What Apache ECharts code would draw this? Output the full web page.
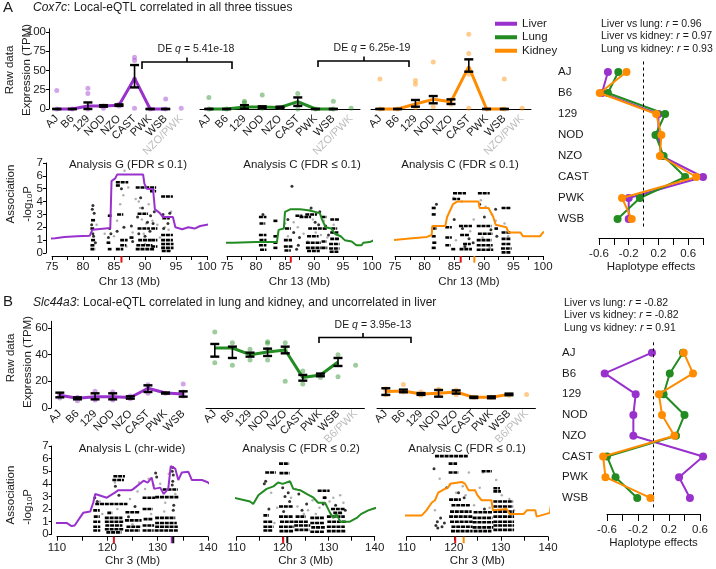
<!DOCTYPE html>
<html>
<head>
<meta charset="utf-8">
<title>Cox7c / Slc44a3 local-eQTL</title>
<script src="https://cdn.jsdelivr.net/npm/echarts@6/dist/echarts.min.js"></script>
<style>
html, body { margin: 0; padding: 0; background: #fff; }
#main { width: 716px; height: 569px; }
</style>
</head>
<body>
<div id="main"></div>
<script>
// ---- categories
var strains = ['AJ', 'B6', '129', 'NOD', 'NZO', 'CAST', 'PWK', 'WSB'];
var catsA = strains.concat(['NZO/PWK']);
var catsB = strains.concat(['B6/PWK']);

// ---- tick labels
var tpmTicksA = [0, 25, 50, 75, 100];
var tpmTicksB = [0, 20, 40, 60];
var logpTicks = [0, 1, 2, 3, 4, 5, 6, 7];
var chr13Ticks = [75, 77.5, 80, 82.5, 85, 87.5, 90, 92.5, 95, 97.5, 100];
var chr13Labels = [75, 80, 85, 90, 95, 100];
var chr3Ticks = [110, 115, 120, 125, 130, 135, 140];
var chr3Labels = [110, 120, 130, 140];
var hapTicksA = [-0.6, -0.4, -0.2, 0, 0.2, 0.4, 0.6, 0.8];
var hapTicksB = [-0.6, -0.4, -0.2, 0, 0.2, 0.4, 0.6];
var hapLabels = [-0.6, -0.2, 0.2, 0.6];

// ---- A: Cox7c raw expression (TPM): strain means, SE bars [lo, hi], single mice
var cox7cLiverMean = [0, 0, 4, 4, 5, 40, 0, 0];
var cox7cLiverErr = [[0, 0], [0, 0], [0, 8.5], [3, 5], [4, 6], [28, 57], [0, 0], [0, 0]];
var cox7cLiverPts = [['AJ', 24], ['AJ', 0], ['B6', 0], ['129', 27], ['129', 20], ['129', 0], ['NOD', 4], ['NOD', 1], ['NZO', 4], ['NZO', 6],
  ['CAST', 67], ['CAST', 63], ['CAST', 39], ['CAST', 1], ['PWK', 0], ['WSB', 13], ['WSB', 0], ['NZO/PWK', 1]];
var cox7cLungMean = [0, 0, 2.6, 2.5, 2, 9.5, 0, 0];
var cox7cLungErr = [[0, 0], [0, 0], [0.5, 5], [1.5, 3.5], [1, 3], [4, 15], [0, 0], [0, 0]];
var cox7cLungPts = [['AJ', 15], ['AJ', 0], ['B6', 0], ['129', 10], ['129', 8], ['NOD', 18], ['NOD', 1], ['NZO', 2], ['CAST', 20], ['CAST', 7], ['CAST', 0],
  ['PWK', 0], ['WSB', 10], ['WSB', 0], ['NZO/PWK', 1]];
var cox7cKidneyMean = [0, 0, 6.5, 12.5, 9.5, 55, 0, 0];
var cox7cKidneyErr = [[0, 0], [0, 0], [3, 11.7], [7.4, 16.8], [6.5, 12.5], [48.4, 64.4], [0, 0], [0, 0]];
var cox7cKidneyPts = [['AJ', 39], ['AJ', 0], ['B6', 0], ['129', 37], ['129', 32], ['129', 2], ['NOD', 61], ['NOD', 3], ['NZO', 12], ['NZO', 6],
  ['CAST', 97], ['CAST', 72], ['CAST', 45], ['CAST', 1], ['PWK', 0], ['WSB', 39], ['WSB', 0], ['NZO/PWK', 1]];

// ---- B: Slc44a3 raw expression (TPM)
var slcLiverMean = [9.5, 7.3, 8.5, 8.5, 7.9, 14.8, 11.2, 10.5];
var slcLiverErr = [[8, 11.5], [6.5, 8], [6.5, 11], [6.5, 11], [7, 8.8], [12, 17], [10.8, 11.6], [8.5, 12.5]];
var slcLiverPts = [['AJ', 7.5], ['AJ', 10.5], ['AJ', 9], ['B6', 5.5], ['B6', 8], ['129', 12.5], ['129', 7], ['129', 6], ['NOD', 12], ['NOD', 7], ['NOD', 6], ['NOD', 10],
  ['NZO', 7], ['NZO', 9], ['CAST', 17.5], ['CAST', 11], ['CAST', 15], ['PWK', 11], ['WSB', 18], ['WSB', 9], ['WSB', 12]];
var slcLungMean = [45, 45, 40, 42, 43.5, 22.8, 24.8, 34.5];
var slcLungErr = [[38.5, 48], [37.5, 46], [38.5, 41.5], [39, 44.5], [41, 46], [20.5, 24.8], [23.8, 25.8], [31.5, 37.5]];
var slcLungPts = [['AJ', 57], ['AJ', 34], ['B6', 49], ['B6', 32], ['129', 44], ['129', 36], ['NOD', 49.6], ['NOD', 48.5], ['NOD', 44], ['NOD', 36],
  ['NZO', 49], ['NZO', 44], ['NZO', 20], ['CAST', 27.8], ['CAST', 18], ['PWK', 22.8], ['WSB', 40], ['WSB', 23.5], ['B6/PWK', 32]];
var slcKidneyMean = [12.3, 12.8, 10.5, 11, 12, 8, 8, 10.2];
var slcKidneyErr = [[9.8, 14.8], [11.8, 13.8], [9.8, 11.2], [8.5, 13.5], [10.8, 13.2], [7.5, 8.5], [7.3, 8.7], [9.6, 10.8]];
var slcKidneyPts = [['AJ', 14.5], ['AJ', 10], ['AJ', 13], ['B6', 17.7], ['B6', 12], ['129', 12], ['129', 9.5], ['NOD', 14], ['NOD', 9.5], ['NOD', 13],
  ['NZO', 13.5], ['NZO', 10], ['CAST', 8], ['PWK', 8], ['WSB', 9.5], ['B6/PWK', 10.2]];

// ---- A: Cox7c association on Chr 13: haplotype scan [Mb, -log10P]
var cox7cLiverScan = [[74.1, 1.5], [74.2, 1.1], [75.5, 1.15], [77, 1.25], [79, 1.3], [81.1, 1.35], [81.5, 1.8], [81.7, 1.9], [84.4, 1.95], [84.6, 5.6],
  [85.2, 5.8], [85.5, 6.1], [89.7, 6.1], [89.9, 5.4], [90.3, 5.0], [91.3, 4.95], [91.6, 3.4], [92.4, 3.1], [92.9, 2.8], [94.5, 2.8], [94.9, 2.0],
  [96, 1.85], [97, 2.0], [98, 1.9], [98.9, 2.1], [100, 2.2], [101.3, 2.3]];
var cox7cLungScan = [[73.2, 1.4], [73.5, 0.8], [76, 0.8], [80, 0.85], [83.6, 0.85], [83.9, 1.8], [84.8, 1.9], [85.0, 3.2], [85.9, 3.4], [87.6, 3.4],
  [89.3, 3.3], [91.0, 3.1], [91.4, 2.6], [92.0, 2.0], [93.0, 1.9], [93.6, 1.5], [94.6, 1.3], [95.3, 1.0], [96.5, 0.9], [97.3, 0.6], [98.2, 0.6],
  [98.5, 0.8], [99.6, 0.85], [100.4, 1.0], [101.2, 1.2]];
var cox7cKidneyScan = [[74.2, 1.4], [74.4, 1.0], [77, 1.1], [80.4, 1.25], [81.2, 1.4], [81.3, 2.1], [83.5, 2.1], [83.8, 2.8], [84.6, 3.6], [84.8, 3.8],
  [85.5, 4.0], [89.1, 4.0], [89.3, 3.5], [90.8, 3.5], [91.6, 2.8], [92.0, 2.2], [93.8, 2.0], [94.2, 1.6], [96.2, 1.6], [96.6, 1.3], [99.5, 1.3],
  [100, 1.6], [100.8, 1.7]];
// SNP association, runs of SNPs [fromMb, toMb, -log10P], single SNPs [Mb, -log10P]
var cox7cLiverSnpRuns = [[81.3, 82.0, 2.55], [81.2, 81.8, 1.9], [81.3, 82.0, 1.0], [81.2, 81.9, 0.6], [81.2, 82.0, 0.3], [84.0, 84.6, 2.9], [83.8, 84.4, 0.8],
  [84.0, 84.6, 0.3], [85.3, 87.3, 5.5], [85.3, 86.0, 5.25], [85.5, 86.5, 3.0], [88.5, 91.8, 5.1], [88.8, 90.5, 3.05], [88.8, 90.8, 1.9], [88.5, 91.5, 0.3],
  [88.6, 91.2, 0.6], [88.9, 91.0, 1.0], [90.8, 91.8, 4.8], [92.6, 94.5, 4.4], [92.8, 94.0, 2.7], [92.6, 94.5, 1.4], [92.6, 94.5, 1.0], [92.6, 94.6, 0.7],
  [92.6, 94.6, 0.4], [92.7, 94.2, 0.15], [91.0, 92.0, 1.9], [91.0, 92.0, 1.0], [91.0, 92.0, 0.5], [86.0, 87.2, 1.0], [85.3, 86.5, 0.3], [86.0, 87.0, 0.6],
  [87.5, 88.2, 1.2]];
var cox7cLiverSnps = [[81.6, 3.7], [81.5, 3.4], [81.8, 3.1], [81.4, 2.2], [81.6, 1.5], [81.7, 1.3], [82.0, 0.8], [84.3, 1.9], [84.5, 1.5], [84.1, 1.2],
  [86.2, 5.0], [87.8, 2.1], [88.0, 0.9], [88.8, 2.8], [89.3, 4.3], [89.6, 3.5], [90.4, 2.4], [90.9, 2.9], [91.5, 3.2], [91.3, 2.3], [93.0, 1.9],
  [93.7, 2.3], [94.0, 3.1], [92.9, 3.0], [86.6, 2.0], [85.5, 1.7], [89.0, 1.5], [90.0, 1.3], [90.8, 1.7]];
var cox7cLiverSnpsWeak = [[85.5, 2.5], [86.0, 3.8], [86.5, 4.5], [87.3, 5.1], [88.0, 1.6], [88.5, 4.2], [89.0, 4.0], [89.2, 3.5], [89.5, 2.6], [89.8, 1.5],
  [90.2, 2.3], [90.6, 3.8], [91.2, 2.5], [91.5, 4.9], [92.0, 2.2], [92.4, 1.2], [93.2, 2.0], [93.8, 1.8], [94.2, 3.2], [86.7, 6.4], [83.5, 1.5],
  [82.2, 2.2], [85.0, 1.3], [87.0, 0.5], [90.0, 0.7], [93.0, 0.5]];
var cox7cLungSnpRuns = [[80.5, 81.8, 2.8], [80.6, 81.6, 2.3], [80.5, 81.8, 1.4], [80.6, 81.8, 1.0], [80.5, 81.8, 0.6], [80.7, 81.8, 0.25], [83.0, 83.7, 2.5],
  [83.0, 83.8, 1.3], [83.0, 83.8, 0.8], [83.0, 83.8, 0.4], [85.0, 86.0, 1.9], [84.8, 86.2, 1.0], [84.8, 86.3, 0.5], [84.9, 86.0, 0.2], [86.8, 88.0, 2.9],
  [87.5, 89.5, 2.8], [88.5, 90.5, 3.0], [89.0, 91.5, 1.9], [88.8, 90.8, 1.3], [88.6, 91.2, 0.8], [88.6, 91.3, 0.4], [88.8, 91.0, 0.15], [91.3, 92.2, 2.8],
  [91.5, 92.3, 1.9], [91.3, 92.2, 0.9], [91.3, 92.3, 0.4], [92.8, 94.3, 2.6], [92.8, 94.2, 1.6], [92.8, 94.3, 1.1], [92.6, 94.4, 0.7], [92.6, 94.4, 0.35],
  [92.7, 94.2, 0.1], [93.0, 94.0, 1.9]];
var cox7cLungSnps = [[86.2, 5.2], [81.2, 3.0], [85.5, 2.6], [86.5, 1.6], [87.5, 1.2], [87.3, 0.6], [89.5, 3.5], [90.2, 2.4], [90.8, 2.2], [91.0, 3.2],
  [92.0, 2.1], [92.5, 1.4], [87.0, 0.3]];
var cox7cLungSnpsWeak = [[85.5, 1.3], [86.5, 2.4], [87.2, 2.0], [88.2, 1.5], [89.3, 3.3], [89.8, 2.6], [90.3, 1.6], [91.7, 2.5], [92.3, 1.2], [93.4, 2.2],
  [93.9, 1.4], [88.9, 0.9], [85.0, 2.3], [90.5, 3.1], [91.2, 1.4]];
var cox7cKidneySnpRuns = [[84.8, 87.0, 4.65], [89.0, 91.0, 4.65], [84.7, 86.0, 4.2], [81.2, 82.0, 3.5], [81.2, 82.0, 3.0], [81.2, 82.1, 1.9], [81.2, 82.0, 1.3],
  [81.3, 82.1, 0.8], [81.2, 82.0, 0.4], [83.5, 84.6, 2.0], [83.5, 84.6, 1.2], [83.5, 84.4, 0.6], [84.5, 85.3, 0.3], [85.8, 88.0, 2.1], [86.0, 87.5, 1.4],
  [86.5, 87.8, 0.7], [85.9, 88.0, 0.3], [88.8, 91.3, 2.1], [89.0, 91.5, 1.5], [88.8, 91.3, 1.0], [88.8, 91.5, 0.6], [88.8, 91.6, 0.25], [91.8, 92.4, 1.9],
  [93.0, 94.6, 3.5], [93.0, 94.6, 1.6], [93.0, 94.6, 1.1], [93.0, 94.6, 0.7], [92.9, 94.7, 0.35], [93.0, 94.5, 0.05]];
var cox7cKidneySnps = [[82.0, 3.8], [85.0, 2.6], [86.4, 1.9], [87.5, 1.1], [88.2, 0.8], [89.3, 3.8], [90.1, 2.8], [91.2, 1.8], [92.0, 3.4], [92.2, 1.3], [86.8, 0.5]];
var cox7cKidneySnpsWeak = [[84.9, 4.3], [86.3, 4.0], [89.5, 4.1], [90.3, 3.6], [91.4, 3.0], [92.0, 2.5], [85.3, 1.0], [87.7, 1.7], [89.8, 1.2], [91.0, 0.4],
  [93.5, 2.3], [94.1, 1.3], [88.3, 2.6]];
// gene position / peak markers under the axis (Mb)
var cox7cLiverMarks = [86.2];
var cox7cLungMarks = [86.0];
var cox7cKidneyMarks = [86.1, 88.4];

// ---- B: Slc44a3 association on Chr 3
var slcLiverScan = [[108.6, 2.06], [108.8, 0.9], [111.9, 0.9], [112.9, 0.65], [113.5, 0.7], [115.2, 1.7], [116.6, 1.8], [117.2, 2.5], [117.6, 3.2],
  [119.9, 2.9], [121.5, 3.3], [122.2, 3.5], [124.8, 3.5], [125.2, 3.6], [127.2, 4.25], [128.0, 4.1], [128.8, 4.5], [129.3, 3.6], [130.5, 3.7],
  [131.2, 3.2], [132.1, 3.6], [132.6, 5.4], [133.5, 5.2], [134.1, 4.3], [134.8, 4.9], [136.1, 4.95], [136.8, 4.3], [138.8, 4.3], [139.8, 4.15],
  [140.4, 4.0], [141.1, 3.7]];
var slcLungScan = [[106.7, 2.7], [107.0, 3.2], [107.3, 2.9], [109.3, 2.9], [112.9, 2.6], [113.6, 2.4], [114.7, 3.1], [116.5, 3.6], [118.0, 3.8],
  [119.0, 4.1], [120.0, 4.0], [121.6, 4.2], [122.3, 3.6], [123.8, 3.5], [125.2, 3.2], [126.7, 2.9], [127.7, 2.5], [129.2, 2.5], [130.3, 1.7],
  [131.0, 1.3], [131.7, 1.6], [132.5, 1.0], [134.6, 1.0], [136.1, 1.3], [137.0, 1.6], [138.6, 1.9], [140.3, 2.1]];
var slcKidneyScan = [[107.2, 1.13], [107.5, 1.5], [109.2, 1.5], [113.2, 1.5], [114.2, 1.9], [115.3, 2.5], [116.0, 2.7], [116.7, 3.3], [118.1, 3.6],
  [118.8, 3.7], [119.2, 4.0], [121.7, 4.15], [122.4, 4.0], [123.1, 3.5], [124.5, 3.5], [125.0, 3.1], [125.9, 2.7], [128.0, 2.7], [128.3, 1.9],
  [131.2, 2.0], [131.9, 1.6], [134.8, 1.6], [135.5, 1.9], [137.3, 1.9], [137.6, 1.4], [140.4, 1.7], [140.7, 2.5]];
var slcLiverSnpRuns = [[121.2, 123.5, 4.6], [121.0, 123.3, 4.3], [117.6, 124.0, 2.4], [117.2, 118.5, 1.9], [117.3, 118.5, 1.4], [117.2, 118.6, 1.0],
  [117.2, 118.6, 0.6], [117.2, 118.6, 0.3], [119.5, 123.0, 1.3], [119.5, 123.2, 1.0], [119.6, 123.0, 0.7], [119.5, 123.2, 0.4], [119.8, 122.8, 0.15],
  [120.0, 121.0, 1.7], [123.6, 126.5, 1.75], [123.5, 126.8, 1.1], [123.8, 126.7, 0.6], [123.5, 126.5, 0.3], [127.0, 129.5, 2.9], [127.0, 129.0, 2.0],
  [127.2, 129.0, 1.2], [127.0, 129.3, 0.7], [127.0, 129.2, 0.3], [129.5, 134.2, 2.95], [131.0, 134.0, 3.55], [129.5, 133.5, 1.3], [129.5, 133.8, 0.9],
  [129.5, 134.0, 0.6], [129.4, 134.0, 0.3]];
var slcLiverSnps = [[129.6, 4.85], [129.8, 4.55], [133.0, 5.3], [132.9, 5.0], [133.1, 4.7], [133.0, 4.2], [132.9, 3.9], [133.2, 2.3], [133.1, 1.9],
  [117.5, 2.9], [118.0, 2.6], [121.6, 3.8], [122.3, 3.1], [124.2, 1.4], [125.5, 2.2]];
var slcLiverSnpsWeak = [[121.5, 4.1], [118.5, 2.6], [122.0, 2.0], [124.5, 2.8], [126.0, 3.4], [127.5, 3.6], [128.2, 4.4], [129.2, 3.9], [130.5, 4.0],
  [131.5, 2.5], [132.2, 4.8], [133.5, 3.2], [125.0, 0.8], [119.0, 1.6], [128.7, 1.6], [131.3, 1.8], [126.3, 4.1]];
var slcLungSnpRuns = [[119.2, 121.4, 5.6], [116.2, 118.5, 4.9], [119.3, 121.5, 4.85], [115.8, 117.8, 1.0], [115.8, 118.0, 0.6], [115.8, 117.8, 0.3],
  [115.8, 117.0, 1.5], [119.2, 122.2, 2.2], [119.2, 122.2, 1.4], [119.4, 122.5, 1.0], [119.2, 122.5, 0.6], [119.3, 122.3, 0.25], [122.5, 125.5, 1.0],
  [122.5, 126.0, 0.7], [122.6, 125.8, 0.35], [122.8, 125.0, 1.4], [126.0, 129.0, 1.3], [126.0, 129.0, 0.9], [126.2, 129.3, 0.55], [126.0, 129.0, 0.2],
  [129.6, 133.5, 1.4], [129.7, 133.7, 1.0], [129.6, 133.5, 0.6], [129.6, 133.7, 0.25], [130.5, 133.5, 2.0], [131.0, 133.0, 1.7], [127.6, 130.2, 3.45],
  [128.7, 129.5, 2.9]];
var slcLungSnps = [[116.3, 4.2], [116.0, 4.0], [120.0, 3.7], [120.5, 3.0], [121.2, 3.3], [121.5, 2.6], [120.2, 1.8], [117.0, 2.0], [123.5, 3.2],
  [125.2, 2.4], [128.8, 2.4], [129.2, 2.9], [131.5, 2.3], [133.6, 1.9], [124.2, 1.9]];
var slcLungSnpsWeak = [[117.5, 3.3], [118.8, 2.1], [121.8, 2.9], [122.8, 3.6], [123.2, 2.2], [124.6, 1.6], [126.5, 2.7], [127.2, 1.6], [128.0, 2.1],
  [130.2, 2.6], [131.0, 2.9], [132.5, 3.1], [133.2, 2.5], [118.2, 0.9], [125.5, 1.9]];
var slcKidneySnpRuns = [[116.0, 123.1, 6.2], [118.9, 120.7, 5.6], [118.9, 121.0, 4.9], [125.9, 128.1, 5.0], [128.4, 129.8, 3.65], [128.4, 130.0, 3.4],
  [128.4, 132.6, 2.6], [128.4, 132.6, 2.2], [128.4, 132.8, 1.8], [128.4, 132.8, 1.4], [128.4, 132.8, 1.0], [128.4, 132.8, 0.7], [128.4, 132.8, 0.35],
  [119.0, 121.5, 2.75], [119.5, 123.5, 2.3], [119.2, 123.8, 1.8], [119.0, 124.0, 1.4], [119.2, 124.0, 1.0], [119.5, 124.0, 0.6], [119.4, 124.0, 0.25],
  [124.2, 128.2, 1.75], [124.0, 128.2, 1.3], [124.0, 128.4, 0.95], [124.0, 128.4, 0.55], [124.2, 128.0, 0.25]];
var slcKidneySnps = [[115.8, 5.2], [116.5, 1.0], [117.2, 1.3], [118.5, 3.7], [121.0, 3.3], [122.2, 2.9], [126.5, 2.0], [116.2, 0.7], [116.6, 0.5],
  [117.5, 0.6], [118.0, 0.9]];
var slcKidneySnpsWeak = [[117.0, 4.4], [119.2, 3.9], [120.5, 3.3], [121.9, 3.8], [122.5, 3.1], [124.3, 2.3], [125.5, 3.7], [127.6, 2.1], [129.0, 4.3],
  [130.2, 3.1], [131.8, 2.8], [132.8, 1.9], [116.0, 1.9], [126.2, 4.9], [123.2, 4.9]];
var slcLiverMarks = [121.3, 132.8, 133.1];
var slcLungMarks = [120.1, 121.0];
var slcKidneyMarks = [120.3, 122.1];

// ---- haplotype effects (AJ..WSB)
var cox7cHapLiver = [-0.48, -0.56, 0.2, 0.2, 0.24, 0.8, -0.2, -0.2];
var cox7cHapLung = [-0.34, -0.48, 0.29, 0.16, 0.27, 0.56, -0.05, -0.35];
var cox7cHapKidney = [-0.23, -0.59, 0.17, 0.24, 0.22, 0.71, -0.29, -0.16];
var slcHapLiver = [-0.02, -0.63, -0.23, -0.26, -0.26, 0.64, 0.33, 0.47];
var slcHapLung = [0.38, 0.21, 0.13, 0.4, 0.29, -0.6, -0.49, -0.21];
var slcHapKidney = [0.39, 0.51, 0.07, 0.11, 0.27, -0.65, -0.62, -0.04];
var cox7cCorr = [['Liver vs lung', '0.96'], ['Liver vs kidney', '0.97'], ['Lung vs kidney', '0.93']];
var slcCorr = [['Liver vs lung', '-0.82'], ['Liver vs kidney', '-0.82'], ['Lung vs kidney', '0.91']];
var cox7cDE = ['5.41e-18', '6.25e-19'];
var slcDE = ['3.95e-13'];

// ---- styles
var FONT = '"Liberation Sans", Arial, sans-serif';
var INK = '#1a1a1a';
var LIVER = '#9932cc', LUNG = '#228b22', KIDNEY = '#ff8c00';
var LIVER_DOT = 'rgba(153,50,204,0.55)', LUNG_DOT = 'rgba(34,139,34,0.55)', KIDNEY_DOT = 'rgba(255,140,0,0.55)';
var RED = '#e3111b';

var grids = [], xAxes = [], yAxes = [], series = [], graphics = [];

function errorBar(params, api) {
  var c = api.value(0);
  var lo = api.coord([c, api.value(1)]);
  var hi = api.coord([c, api.value(2)]);
  var w = 4.5;
  return {
    type: 'group', children: [
      { type: 'line', shape: { x1: lo[0], y1: lo[1], x2: hi[0], y2: hi[1] }, style: { stroke: '#000', lineWidth: 1.6 } },
      { type: 'line', shape: { x1: lo[0] - w, y1: lo[1], x2: lo[0] + w, y2: lo[1] }, style: { stroke: '#000', lineWidth: 2.4 } },
      { type: 'line', shape: { x1: hi[0] - w, y1: hi[1], x2: hi[0] + w, y2: hi[1] }, style: { stroke: '#000', lineWidth: 2.4 } }
    ]
  };
}

function snpRun(params, api) {
  var y = api.value(2);
  var a = api.coord([api.value(0), y]);
  var b = api.coord([api.value(1), y]);
  return {
    type: 'line',
    shape: { x1: a[0], y1: a[1], x2: Math.max(b[0], a[0] + 2), y2: b[1] },
    style: { stroke: '#000', lineWidth: 2.6, lineDash: [4, 0.8] }
  };
}

function exprPanel(box, cats, showX, showY, yMax, yTicks, xOffset, name, color, dotColor, mean, err, pts) {
  var gi = grids.length;
  grids.push(box);
  xAxes.push({
    type: 'category', gridIndex: gi, data: cats, boundaryGap: true, offset: xOffset,
    axisLine: { show: showX, lineStyle: { color: '#000', width: 1 } },
    axisTick: { show: false },
    axisLabel: {
      interval: 0, rotate: 45, fontSize: 11, fontFamily: FONT, margin: 4,
      color: function (v) { return v.indexOf('/') >= 0 ? '#bdbdbd' : INK; }
    },
    splitLine: { show: false }
  });
  yAxes.push({
    type: 'value', gridIndex: gi, min: 0, max: yMax, show: showY,
    axisLine: { show: true, lineStyle: { color: '#000' } },
    axisTick: { show: true, length: 3, customValues: yTicks, lineStyle: { color: '#000' } },
    axisLabel: { customValues: yTicks, fontSize: 11.5, fontFamily: FONT, color: INK, margin: 3 },
    splitLine: { show: false }
  });
  series.push({
    type: 'scatter', xAxisIndex: gi, yAxisIndex: gi, data: pts, symbolSize: 5,
    itemStyle: { color: dotColor }, clip: false, z: 2, silent: true
  });
  series.push({
    name: name, type: 'line', xAxisIndex: gi, yAxisIndex: gi, data: mean, symbol: 'none',
    lineStyle: { color: color, width: 3 }, itemStyle: { color: color }, clip: false, z: 3
  });
  series.push({
    type: 'custom', xAxisIndex: gi, yAxisIndex: gi, renderItem: errorBar, z: 4,
    encode: { x: 0, y: [1, 2] },
    data: err.map(function (e, i) { return [strains[i], e[0], e[1]]; })
  });
}

function assocPanel(box, xMin, xMax, xTicks, xLabels, xName, nameGap, showY, xOffset, yOffset, color,
                    scan, runs, snps, weak, marks, markColors, markSpan) {
  var gi = grids.length;
  grids.push(box);
  xAxes.push({
    type: 'value', gridIndex: gi, min: xMin, max: xMax, offset: xOffset,
    axisLine: { show: true, onZero: false, lineStyle: { color: '#000' } },
    axisTick: { show: true, length: 4, customValues: xTicks, lineStyle: { color: '#000' } },
    axisLabel: { customValues: xLabels, fontSize: 11.5, fontFamily: FONT, color: INK, margin: 5 },
    splitLine: { show: false },
    name: xName, nameLocation: 'middle', nameGap: nameGap,
    nameTextStyle: { fontSize: 11.5, fontFamily: FONT, color: INK }
  });
  yAxes.push({
    type: 'value', gridIndex: gi, min: 0, max: 7, show: showY, offset: yOffset,
    axisLine: { show: true, onZero: false, lineStyle: { color: '#000' } },
    axisTick: { show: true, length: 3, customValues: logpTicks, lineStyle: { color: '#000' } },
    axisLabel: { customValues: logpTicks, fontSize: 11.5, fontFamily: FONT, color: INK, margin: 3 },
    splitLine: { show: false }
  });
  series.push({ type: 'scatter', xAxisIndex: gi, yAxisIndex: gi, data: weak, symbolSize: 2.5,
    itemStyle: { color: '#9c9c9c' }, silent: true, z: 2 });
  series.push({ type: 'custom', xAxisIndex: gi, yAxisIndex: gi, data: runs, renderItem: snpRun,
    encode: { x: [0, 1], y: 2 }, silent: true, z: 3 });
  series.push({ type: 'scatter', xAxisIndex: gi, yAxisIndex: gi, data: snps, symbolSize: 3,
    itemStyle: { color: '#000' }, silent: true, z: 3 });
  series.push({ type: 'line', xAxisIndex: gi, yAxisIndex: gi, data: scan, symbol: 'none', clip: false,
    lineStyle: { color: color, width: 2 }, itemStyle: { color: color }, z: 4 });
  marks.forEach(function (m, i) {
    series.push({ type: 'line', xAxisIndex: gi, yAxisIndex: gi, data: [[m, markSpan[0]], [m, markSpan[1]]],
      symbol: 'none', clip: false, lineStyle: { color: markColors[i], width: 2 }, z: 5 });
  });
}

function hapPanel(box, xMin, xMax, ticks, xOffset, labelMargin, liver, lung, kidney) {
  var gi = grids.length;
  grids.push(box);
  xAxes.push({
    type: 'value', gridIndex: gi, min: xMin, max: xMax, offset: xOffset,
    axisLine: { show: true, onZero: false, lineStyle: { color: '#000' } },
    axisTick: { show: true, length: 7, customValues: ticks, lineStyle: { color: '#000' } },
    axisLabel: { customValues: hapLabels, fontSize: 11.5, fontFamily: FONT, color: INK, margin: 10 },
    splitLine: { show: false },
    name: 'Haplotype effects', nameLocation: 'middle', nameGap: 22,
    nameTextStyle: { fontSize: 11.5, fontFamily: FONT, color: INK }
  });
  yAxes.push({
    type: 'category', gridIndex: gi, data: strains, inverse: true,
    axisLine: { show: false }, axisTick: { show: false },
    axisLabel: { align: 'left', margin: labelMargin, fontSize: 11.5, fontFamily: FONT, color: INK }
  });
  [[liver, LIVER], [lung, LUNG], [kidney, KIDNEY]].forEach(function (s, k) {
    var ser = {
      type: 'line', xAxisIndex: gi, yAxisIndex: gi, clip: false,
      data: s[0].map(function (v, i) { return [v, strains[i]]; }),
      symbol: 'circle', symbolSize: 8, lineStyle: { color: s[1], width: 2 }, itemStyle: { color: s[1] }, z: 3 + k
    };
    if (k === 0) {
      ser.markLine = { silent: true, symbol: 'none', label: { show: false },
        lineStyle: { color: '#000', width: 1, type: [3, 3] }, data: [{ xAxis: 0 }] };
    }
    series.push(ser);
  });
}

// ---------- panel A
exprPanel({ left: 49, top: 28.8, width: 140, height: 80.2 }, catsA, false, true, 104, tpmTicksA, 4, 'Liver', LIVER, LIVER_DOT,
  cox7cLiverMean, cox7cLiverErr, cox7cLiverPts);
exprPanel({ left: 200, top: 28.8, width: 160, height: 80.2 }, catsA, true, false, 104, tpmTicksA, 4, 'Lung', LUNG, LUNG_DOT,
  cox7cLungMean, cox7cLungErr, cox7cLungPts);
exprPanel({ left: 371, top: 28.8, width: 160, height: 80.2 }, catsA, true, false, 104, tpmTicksA, 4, 'Kidney', KIDNEY, KIDNEY_DOT,
  cox7cKidneyMean, cox7cKidneyErr, cox7cKidneyPts);
assocPanel({ left: 52, top: 163, width: 155, height: 90 }, 75, 100, chr13Ticks, chr13Labels, 'Chr 13 (Mb)', 20, true, 3, 6, LIVER,
  cox7cLiverScan, cox7cLiverSnpRuns, cox7cLiverSnps, cox7cLiverSnpsWeak, cox7cLiverMarks, [RED], [-0.25, -0.75]);
assocPanel({ left: 227, top: 163, width: 145, height: 90 }, 75, 100, chr13Ticks, chr13Labels, 'Chr 13 (Mb)', 20, false, 3, 6, LUNG,
  cox7cLungScan, cox7cLungSnpRuns, cox7cLungSnps, cox7cLungSnpsWeak, cox7cLungMarks, [RED], [-0.25, -0.75]);
assocPanel({ left: 395, top: 163, width: 148, height: 90 }, 75, 100, chr13Ticks, chr13Labels, 'Chr 13 (Mb)', 20, false, 3, 6, KIDNEY,
  cox7cKidneyScan, cox7cKidneySnpRuns, cox7cKidneySnps, cox7cKidneySnpsWeak, cox7cKidneyMarks, [RED, KIDNEY], [-0.25, -0.75]);
hapPanel({ left: 599, top: 61.5, width: 104, height: 168 }, -0.6, 0.8, hapTicksA, 8.5, 41, cox7cHapLiver, cox7cHapLung, cox7cHapKidney);

// ---------- panel B
exprPanel({ left: 51, top: 321.3, width: 141, height: 86.7 }, strains, false, true, 65, tpmTicksB, 0, 'Liver B', LIVER, LIVER_DOT,
  slcLiverMean, slcLiverErr, slcLiverPts);
exprPanel({ left: 206, top: 321.3, width: 158.4, height: 86.7 }, catsB, true, false, 65, tpmTicksB, 0, 'Lung B', LUNG, LUNG_DOT,
  slcLungMean, slcLungErr, slcLungPts);
exprPanel({ left: 377, top: 321.3, width: 158.4, height: 86.7 }, catsB, true, false, 65, tpmTicksB, 0, 'Kidney B', KIDNEY, KIDNEY_DOT,
  slcKidneyMean, slcKidneyErr, slcKidneyPts);
assocPanel({ left: 57, top: 446, width: 151, height: 88.3 }, 110, 140, chr3Ticks, chr3Labels, 'Chr 3 (Mb)', 15, true, 2.4, 5.3, LIVER,
  slcLiverScan, slcLiverSnpRuns, slcLiverSnps, slcLiverSnpsWeak, slcLiverMarks, [RED, LIVER, '#111'], [-0.2, -0.7]);
assocPanel({ left: 236.7, top: 446, width: 138, height: 88.3 }, 110, 140, chr3Ticks, chr3Labels, 'Chr 3 (Mb)', 15, false, 2.4, 5.3, LUNG,
  slcLungScan, slcLungSnpRuns, slcLungSnps, slcLungSnpsWeak, slcLungMarks, [RED, '#111'], [-0.2, -0.7]);
assocPanel({ left: 406.7, top: 446, width: 141.3, height: 88.3 }, 110, 140, chr3Ticks, chr3Labels, 'Chr 3 (Mb)', 15, false, 2.4, 5.3, KIDNEY,
  slcKidneyScan, slcKidneySnpRuns, slcKidneySnps, slcKidneySnpsWeak, slcKidneyMarks, [RED, KIDNEY], [-0.2, -0.7]);
hapPanel({ left: 607, top: 342.3, width: 93, height: 166 }, -0.6, 0.6, hapTicksB, 5.7, 45, slcHapLiver, slcHapLung, slcHapKidney);

// ---------- text annotations
function text(x, y, str, opt) {
  opt = opt || {};
  var el = {
    type: 'text', x: x, y: y, rotation: opt.rotate ? Math.PI / 2 : 0, silent: true,
    style: {
      text: str, fontSize: opt.size || 11.5, fontFamily: FONT, fill: INK,
      align: opt.align || 'center', verticalAlign: 'middle', rich: opt.rich
    }
  };
  graphics.push(el);
}
var italic = { i: { fontStyle: 'italic', fontSize: 12, fontFamily: FONT, fill: INK } };
var italicSmall = { i: { fontStyle: 'italic', fontSize: 10.5, fontFamily: FONT, fill: INK } };
var sub = { s: { fontSize: 8, fontFamily: FONT, fill: INK, verticalAlign: 'bottom', padding: [4, 0, 0, 0] } };

text(8, 8, 'A', { size: 15 });
text(33, 8, '{i|Cox7c}: Local-eQTL correlated in all three tissues', { size: 12, align: 'left', rich: italic });
text(8, 302, 'B', { size: 15 });
text(33, 303, '{i|Slc44a3}: Local-eQTL correlated in lung and kidney, and uncorrelated in liver', { size: 12, align: 'left', rich: italic });

text(10, 70, 'Raw data', { rotate: true });
text(27, 70, 'Expression (TPM)', { rotate: true });
text(11, 194, 'Association', { rotate: true });
text(28, 204, '-log{s|10}P', { rotate: true, rich: sub });
text(11, 358, 'Raw data', { rotate: true });
text(28, 362, 'Expression (TPM)', { rotate: true });
text(11, 495, 'Association', { rotate: true });
text(28, 507, '-log{s|10}P', { rotate: true, rich: sub });

text(128, 165, 'Analysis G (FDR \u2264 0.1)');
text(302, 165, 'Analysis C (FDR \u2264 0.1)');
text(460, 165, 'Analysis C (FDR \u2264 0.1)');
text(132, 449, 'Analysis L (chr-wide)');
text(301, 449, 'Analysis C (FDR \u2264 0.2)');
text(467, 449, 'Analysis C (FDR \u2264 0.1)');

cox7cCorr.forEach(function (c, i) {
  text(601, 24 + i * 12.5, c[0] + ': {i|r} = ' + c[1], { align: 'left', size: 10.5, rich: italicSmall });
});
slcCorr.forEach(function (c, i) {
  text(564, 303 + i * 12.5, c[0] + ': {i|r} = ' + c[1], { align: 'left', size: 10.5, rich: italicSmall });
});

function bracket(x1, x2, xm, y, drop, rise, label, ty, tx) {
  graphics.push({ type: 'polyline', silent: true,
    shape: { points: [[x1, y + drop], [x1, y], [x2, y], [x2, y + drop]] },
    style: { stroke: '#000', lineWidth: 1.6, fill: null } });
  graphics.push({ type: 'line', silent: true, shape: { x1: xm, y1: y, x2: xm, y2: y - rise },
    style: { stroke: '#000', lineWidth: 1.6 } });
  text(tx, ty, 'DE {i|q} = ' + label, { size: 10.5, rich: italicSmall });
}
bracket(142, 232, 187, 62, 7, 4.5, cox7cDE[0], 49, 196);
bracket(318, 409, 364, 61, 6, 4.5, cox7cDE[1], 48, 372);
bracket(319, 411, 363, 337.5, 5.5, 4.5, slcDE[0], 325, 373);

var option = {
  animation: false,
  backgroundColor: '#fff',
  textStyle: { fontFamily: FONT },
  legend: {
    left: 490, top: 12, orient: 'vertical', itemWidth: 22, itemHeight: 4, itemGap: 0,
    icon: 'rect', selectedMode: false,
    textStyle: { fontSize: 11.5, fontFamily: FONT, color: INK, lineHeight: 13.5 },
    data: ['Liver', 'Lung', 'Kidney']
  },
  grid: grids,
  xAxis: xAxes,
  yAxis: yAxes,
  series: series,
  graphic: graphics
};

var myChart = echarts.init(document.getElementById('main'));
myChart.setOption(option);
</script>
</body>
</html>
